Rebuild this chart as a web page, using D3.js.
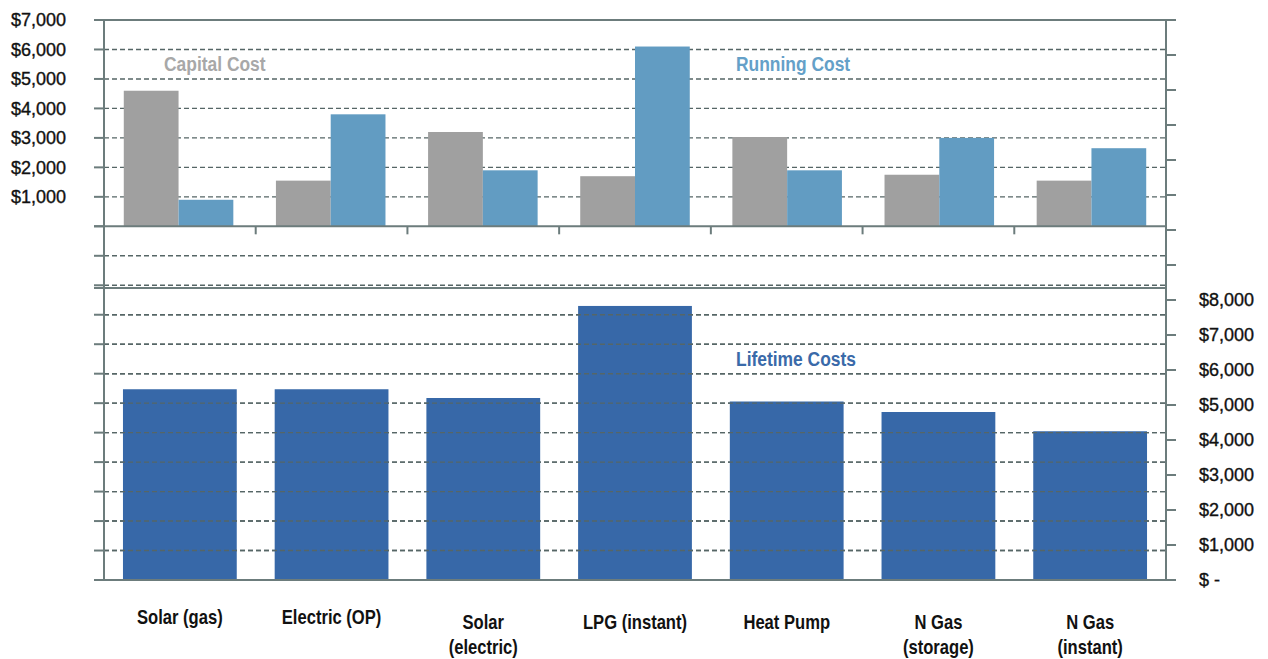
<!DOCTYPE html>
<html>
<head>
<meta charset="utf-8">
<script src="https://cdn.jsdelivr.net/npm/d3@7"></script>
<style>
  html, body { margin: 0; padding: 0; background: #ffffff; }
  svg { display: block; }
</style>
</head>
<body>
<svg id="chart" width="1268" height="659"></svg>
<script>
// Hot water system costs: capital vs running (upper panel) and lifetime totals (lower panel)
const categories = ["Solar (gas)", "Electric (OP)", "Solar (electric)", "LPG (instant)", "Heat Pump", "N Gas (storage)", "N Gas (instant)"];
const categoryLabelLines = [["Solar (gas)"], ["Electric (OP)"], ["Solar", "(electric)"], ["LPG (instant)"], ["Heat Pump"], ["N Gas", "(storage)"], ["N Gas", "(instant)"]];
const capitalCost = [4600, 1550, 3200, 1700, 3030, 1750, 1550];
const runningCost = [900, 3800, 1900, 6100, 1900, 3000, 2650];
const lifetimeCost = [5450, 5450, 5200, 7830, 5100, 4800, 4250];
const leftTickValues = d3.range(-12000, 7001, 1000);
const leftLabelValues = d3.range(1000, 7001, 1000);
const rightTickValues = d3.range(0, 16001, 1000);
const rightLabelValues = d3.range(0, 8001, 1000);
const seriesNames = ["Capital Cost", "Running Cost"];
const panelTitles = ["Capital Cost", "Running Cost", "Lifetime Costs"];

// Layout
const plot = { left: 104, right: 1166, top: 20, bottom: 580 };
const lowerFrameY = 288;
const tickLen = 10;
const labelBaselines = [624, 624, 629, 629, 629, 629, 629];
const axisColor = "#6c7c7c";
const gridColor = "#566666";
const colors = { capital: "#a0a0a0", running: "#629cc2", lifetime: "#3768a8" };
const titleColors = ["#a8a8a8", "#64a0c8", "#3a6aa9"];
const sans = "'Liberation Sans', Arial, sans-serif";
const condense = 0.83; // horizontal squeeze for the condensed bold captions

const svg = d3.select("#chart");

const yLeft = d3.scaleLinear().domain([-12000, 7000]).range([plot.bottom, plot.top]);
const yRight = d3.scaleLinear().domain([0, 16000]).range([plot.bottom, plot.top]);

const xUpper = d3.scaleBand().domain(categories).range([plot.left, plot.right])
  .paddingInner(0.28).paddingOuter(0.13);
const xSeries = d3.scaleBand().domain(seriesNames).range([0, xUpper.bandwidth()]);
const xLower = d3.scaleBand().domain(categories).range([plot.left, plot.right])
  .paddingInner(0.25).paddingOuter(0.125);

const fmt = v => v === 0 ? "$ -" : "$" + d3.format(",")(v);

function gridLines(parent, values) {
  parent.append("g").selectAll("line").data(values).join("line")
    .attr("x1", plot.left).attr("x2", plot.right)
    .attr("y1", d => yLeft(d)).attr("y2", d => yLeft(d))
    .attr("stroke", gridColor).attr("stroke-width", 1.4)
    .attr("stroke-dasharray", "5,3");
}

// Dashed gridlines from the left axis (frame/baseline values are solid)
const gridValues = leftTickValues.filter(v => v !== 7000 && v !== 0 && v !== -12000);
gridLines(svg, gridValues);

// Lower panel: lifetime cost bars (right axis)
svg.append("g").selectAll("rect").data(categories).join("rect")
  .attr("x", d => xLower(d))
  .attr("width", xLower.bandwidth())
  .attr("y", (d, i) => yRight(lifetimeCost[i]))
  .attr("height", (d, i) => yRight(0) - yRight(lifetimeCost[i]))
  .attr("fill", colors.lifetime);

// Gridlines show through the lower bars
gridLines(svg, gridValues.filter(v => yLeft(v) > lowerFrameY));

// Upper panel: grouped capital / running bars (left axis)
const gUpper = svg.append("g");
categories.forEach((c, i) => {
  const vals = [capitalCost[i], runningCost[i]];
  gUpper.selectAll(null).data(vals).join("rect")
    .attr("x", (v, j) => xUpper(c) + xSeries(seriesNames[j]))
    .attr("width", xSeries.bandwidth())
    .attr("y", v => yLeft(v))
    .attr("height", v => yLeft(0) - yLeft(v))
    .attr("fill", (v, j) => j === 0 ? colors.capital : colors.running);
});

// Frame lines: top border, upper baseline, lower panel top, lower baseline
const frameYs = [yLeft(7000), yLeft(0), lowerFrameY, yLeft(-12000)];
svg.append("g").selectAll("line").data(frameYs).join("line")
  .attr("x1", plot.left - tickLen).attr("x2", plot.right)
  .attr("y1", d => d).attr("y2", d => d)
  .attr("stroke", axisColor).attr("stroke-width", 2);

// Left axis
const gLeft = svg.append("g").attr("transform", `translate(${plot.left},0)`);
gLeft.append("line").attr("x1", 0).attr("x2", 0)
  .attr("y1", plot.top).attr("y2", plot.bottom)
  .attr("stroke", axisColor).attr("stroke-width", 2);
gLeft.selectAll("line.tick").data(leftTickValues).join("line").attr("class", "tick")
  .attr("x1", -tickLen).attr("x2", 0)
  .attr("y1", d => yLeft(d)).attr("y2", d => yLeft(d))
  .attr("stroke", axisColor).attr("stroke-width", 2);
svg.append("g").selectAll("text").data(leftLabelValues).join("text")
  .attr("x", 66).attr("y", d => yLeft(d))
  .attr("dy", "0.36em")
  .attr("text-anchor", "end")
  .attr("font-family", sans).attr("font-size", 18)
  .attr("fill", "#111").attr("stroke", "#111").attr("stroke-width", 0.35)
  .text(fmt);

// Right axis
const gRight = svg.append("g").attr("transform", `translate(${plot.right},0)`);
gRight.append("line").attr("x1", 0).attr("x2", 0)
  .attr("y1", plot.top).attr("y2", plot.bottom)
  .attr("stroke", axisColor).attr("stroke-width", 2);
gRight.selectAll("line.tick").data(rightTickValues).join("line").attr("class", "tick")
  .attr("x1", 0).attr("x2", tickLen)
  .attr("y1", d => yRight(d)).attr("y2", d => yRight(d))
  .attr("stroke", axisColor).attr("stroke-width", 2);
svg.append("g").selectAll("text").data(rightLabelValues).join("text")
  .attr("x", 1199).attr("y", d => yRight(d))
  .attr("dy", "0.36em")
  .attr("text-anchor", "start")
  .attr("font-family", sans).attr("font-size", 18)
  .attr("fill", "#111").attr("stroke", "#111").attr("stroke-width", 0.35)
  .text(fmt);

// Category ticks on the upper baseline (between groups)
svg.append("g").selectAll("line").data(categories.slice(0, -1)).join("line")
  .attr("x1", d => xLower(d) + xLower.bandwidth() / 2 + xLower.step() / 2)
  .attr("x2", d => xLower(d) + xLower.bandwidth() / 2 + xLower.step() / 2)
  .attr("y1", yLeft(0)).attr("y2", yLeft(0) + 8)
  .attr("stroke", axisColor).attr("stroke-width", 2);

// Category labels (condensed bold)
const gCat = svg.append("g");
categories.forEach((c, i) => {
  const lines = categoryLabelLines[i];
  const cx = xLower(c) + xLower.bandwidth() / 2;
  const t = gCat.append("text")
    .attr("transform", `translate(${cx},${labelBaselines[i]}) scale(${condense},1)`)
    .attr("text-anchor", "middle")
    .attr("font-family", sans).attr("font-weight", "bold").attr("font-size", 20)
    .attr("fill", "#111");
  lines.forEach((ln, k) => {
    t.append("tspan").attr("x", 0).attr("dy", k === 0 ? 0 : 25).text(ln);
  });
});

// Panel titles
const titlePos = [[164, 71], [736, 71], [736, 366]];
svg.append("g").selectAll("text").data(panelTitles).join("text")
  .attr("transform", (d, i) => `translate(${titlePos[i][0]},${titlePos[i][1]}) scale(${condense},1)`)
  .attr("font-family", sans).attr("font-weight", "bold").attr("font-size", 21)
  .attr("fill", (d, i) => titleColors[i])
  .text(d => d);
</script>
</body>
</html>
